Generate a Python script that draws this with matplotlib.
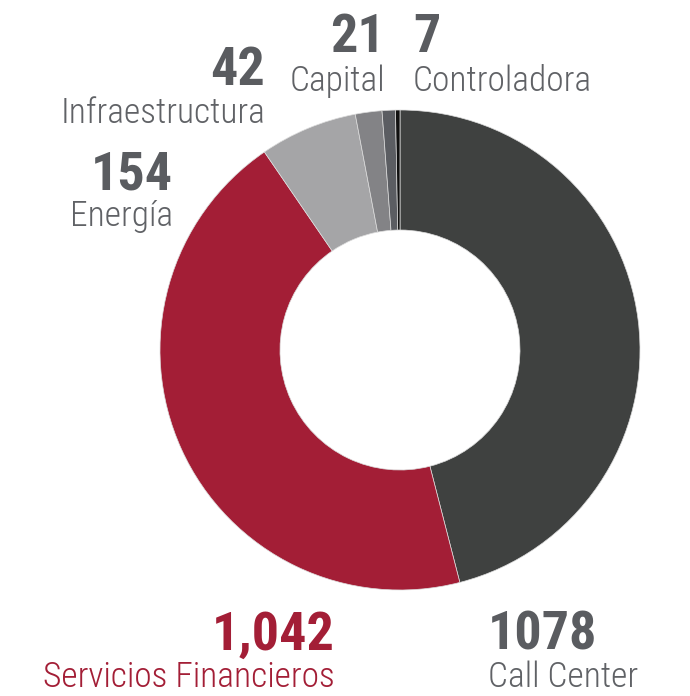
import matplotlib
matplotlib.use("Agg")
import matplotlib.pyplot as plt
from matplotlib import font_manager

# data, clockwise from the top
categories = ['Call Center', 'Servicios Financieros', 'Energía', 'Infraestructura', 'Capital', 'Controladora']
values = [1078, 1042, 154, 42, 21, 7]
value_labels = ['1078', '1,042', '154', '42', '21', '7']
colors = ['#3f4140', '#a31e36', '#a5a5a7', '#838386', '#5b5d62', '#111111']

W, H = 690, 696
fig = plt.figure(figsize=(W / 100, H / 100), dpi=100)

# donut centered at (400, 350) px with radius 240 px
cx, cy, r = 400, 350, 240
ax = fig.add_axes([(cx - r) / W, (H - cy - r) / H, 2 * r / W, 2 * r / H])
ax.pie(values, colors=colors, startangle=90, counterclock=False, radius=1,
       wedgeprops=dict(width=0.5, edgecolor='#dddddd', linewidth=0.5))
ax.set_xlim(-1, 1)
ax.set_ylim(-1, 1)
ax.set_aspect('equal')
ax.axis('off')

names = {f.name for f in font_manager.fontManager.ttflist}
font = 'Roboto'
for cand in ['Roboto Condensed', 'Liberation Sans Narrow', 'Open Sans Condensed']:
    if cand in names:
        font = cand
        break

num_col = '#5a5c60'
txt_col = '#606266'
red = '#a31e36'

def px(x, y):
    return x / W, 1 - y / H

# (x, y_number_baseline, y_label_baseline, ha, color_num, color_txt)
pos = {
    'Call Center': (488, 650, 687, 'left', num_col, txt_col),
    'Servicios Financieros': (335, 650, 687, 'right', red, red),
    'Energía': (173, 190, 226, 'right', num_col, txt_col),
    'Infraestructura': (265, 85, 123, 'right', num_col, txt_col),
    'Capital': (385, 52, 91, 'right', num_col, txt_col),
    'Controladora': (413, 52, 91, 'left', num_col, txt_col),
}

for cat, lab in zip(categories, value_labels):
    x, yn, yl, ha, cn, ct = pos[cat]
    fig.text(*px(x, yn), lab, ha=ha, va='baseline', fontsize=39,
             fontweight='bold', color=cn, family=font)
    fig.text(*px(x, yl), cat, ha=ha, va='baseline', fontsize=25.5,
             fontweight='light', color=ct, family=font)

fig.savefig('out.png', dpi=100)
